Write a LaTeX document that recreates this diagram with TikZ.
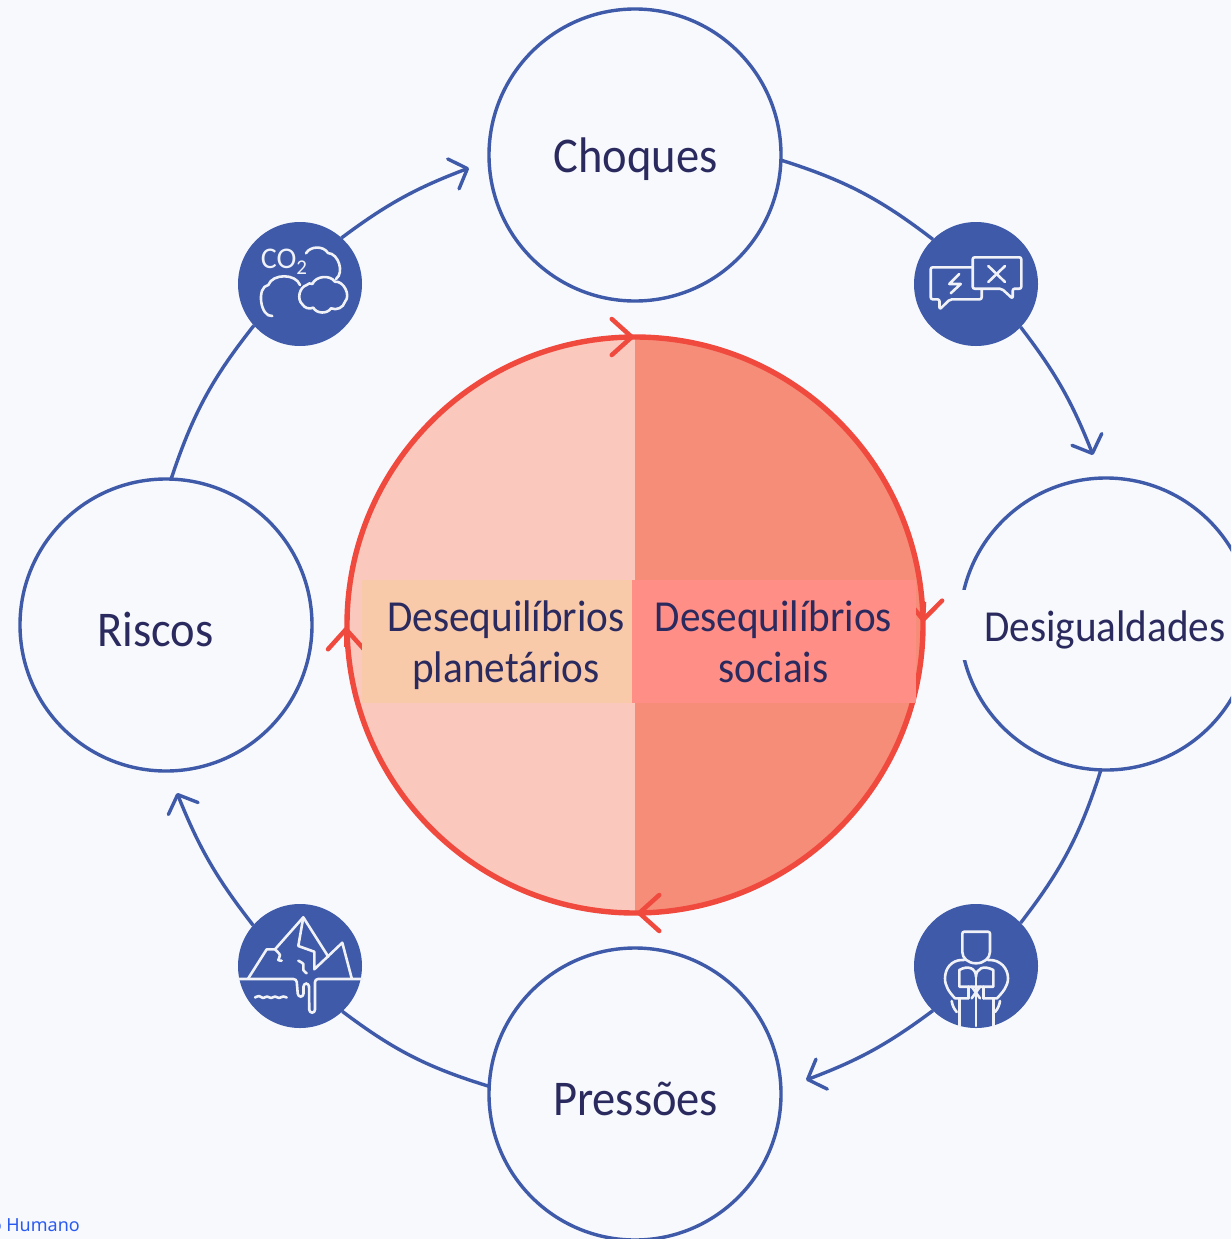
\documentclass[tikz,border=0pt]{standalone}
\usepackage{fontspec}
\setmainfont{Carlito}
\newfontfamily\rotfont[FakeStretch=0.93]{Carlito}
\newfontfamily\linkfont{Noto Sans}
\usetikzlibrary{arrows.meta}
\definecolor{fundo}{HTML}{F7F9FD}
\definecolor{azul}{HTML}{3E5AA8}
\definecolor{tinta}{HTML}{2B2A5E}
\definecolor{vermelho}{HTML}{F0493E}
\definecolor{rosa}{HTML}{FBC8BE}
\definecolor{salmao}{HTML}{F68D78}
\definecolor{pessego}{HTML}{F8CAAA}
\definecolor{coral}{HTML}{FF8E86}
\definecolor{ligacao}{HTML}{2A5BF0}
\begin{document}
\begin{tikzpicture}[x=1pt, y=-1pt]
\tikzset{etapa/.style={draw=azul, circle, line width=3.4pt, minimum size=292pt, inner sep=0pt, outer sep=0pt}}
\tikzset{icone/.style={fill=azul, circle, minimum size=124pt, inner sep=0pt, outer sep=0pt}}
\tikzset{rotulo/.style={text=tinta, font=\rotfont\fontsize{50}{54}\selectfont}}
\tikzset{rotulomenor/.style={text=tinta, align=center, font=\rotfont\fontsize{44.3}{51}\selectfont}}
\tikzset{ligar/.style={draw=azul, line width=3.4pt}}
\tikzset{seta/.style={ligar, -{Straight Barb[length=15pt, width=32pt, round]}}}
\tikzset{setav/.style={draw=vermelho, line width=4.5pt, -{Straight Barb[length=20pt, width=36pt, round]}}}
\tikzset{traco/.style={draw=white!92!azul, line width=2.6pt, line join=round, line cap=round}}
\useasboundingbox (0,0) rectangle (1231,1239);
\clip (0,0) rectangle (1231,1239);
\fill[fundo] (0,0) rectangle (1231,1239);
\node[etapa] (choques) at (635,155) {};
\node[etapa] (desigualdades) at (1106,624) {};
\node[etapa] (pressoes) at (635,1094) {};
\node[etapa] (riscos) at (166,625) {};
\node[icone] (conflito) at (976,284) {};
\node[icone] (pessoa) at (976,966) {};
\node[icone] (gelo) at (300,966) {};
\node[icone] (nuvens) at (300,284) {};
\coordinate (fimdesig) at (1093,455);
\coordinate (fimpress) at (806,1080);
\coordinate (fimris) at (177,793);
\coordinate (fimcho) at (469,168);
\draw[ligar] (choques.-2) to[bend left=10] (conflito.134);
\draw[seta] (conflito.-44) to[bend left=8] (fimdesig);
\draw[ligar] (desigualdades.-92) to[bend left=10] (pessoa.44);
\draw[seta] (pessoa.-134) to[bend left=8] (fimpress);
\draw[ligar] (pressoes.177) to[bend left=10] (gelo.-47);
\draw[seta] (gelo.139) to[bend left=8] (fimris);
\draw[ligar] (riscos.88) to[bend left=10] (nuvens.-138);
\draw[seta] (nuvens.48) to[bend left=8] (fimcho);
\begin{scope}
\clip (635,625) circle (288pt);
\fill[rosa] (340,330) rectangle (635,920);
\fill[salmao] (635,330) rectangle (930,920);
\end{scope}
\node[draw=vermelho, circle, line width=5.4pt, minimum size=576pt, inner sep=0pt, outer sep=0pt] (nucleo) at (635,625) {};
\coordinate (topo0) at (615,337);
\coordinate (topo1) at (634,337);
\coordinate (dir0) at (924,602);
\coordinate (dir1) at (923,622);
\coordinate (base0) at (657,913);
\coordinate (base1) at (637,913);
\coordinate (esq0) at (346,647);
\coordinate (esq1) at (346,627);
\draw[setav] (topo0) -- (topo1);
\draw[setav] (dir0) -- (dir1);
\draw[setav] (base0) -- (base1);
\draw[setav] (esq0) -- (esq1);
\node[fill=pessego, minimum width=270pt, minimum height=123pt, inner sep=0pt] (caixaesq) at (497,641.5) {};
\node[fill=coral, minimum width=284pt, minimum height=123pt, inner sep=0pt] (caixadir) at (774,641.5) {};
\node[fill=fundo, minimum width=300pt, minimum height=70pt, inner sep=0pt] (caixadesig) at (1105,625) {};
\node[rotulomenor] (planetarios) at (506,645) {Desequilíbrios\\planetários};
\node[rotulomenor] (sociais) at (773.5,642) {Desequilíbrios\\sociais};
\node[rotulo] (txtchoques) at (635.5,159) {Choques};
\node[rotulo] (txtriscos) at (155.5,629) {Riscos};
\node[rotulo] (txtpressoes) at (635.5,1099) {Pressões};
\node[rotulomenor] (txtdesig) at (1105,630) {Desigualdades};
\node[text=ligacao, font=\linkfont\fontsize{18}{20}\selectfont, anchor=east, inner sep=0pt] (txtlink) at (80,1225) {o Humano};
% conflito
\draw[traco, rounded corners=2pt] (981.7,289.3) -- (981.7,299.3) -- (950,299.3) -- (939.5,309.5) -- (939.5,299.3) -- (930.7,299.3) -- (930.7,267.3) -- (972.7,267.3);
\draw[traco, rounded corners=2pt] (972.7,257.3) -- (1021.3,257.3) -- (1021.3,288.7) -- (1012.7,288.7) -- (1012.7,298.7) -- (1001.7,288.7) -- (972.7,288.7) -- cycle;
\draw[traco] (988.3,266) -- (1005,282);
\draw[traco] (1005,266) -- (988.3,282);
\draw[traco] (959.3,274) -- (949.3,284) -- (960.7,284) -- (950.7,293.3);
% nuvens
\node[text=white!92!azul, font=\fontsize{30}{32}\selectfont, inner sep=0pt] (co2) at (284,262) {CO\raisebox{-6pt}{\fontsize{21}{23}\selectfont 2}};
\draw[traco] (306,253.3) to[bend left=60] (328,253) to[bend left=70] (336,279);
\draw[traco] (272.3,316) to[bend left=90] (268.3,285) to[bend left=70] (300,285);
\draw[traco] (302.3,304.3) to[bend left=60] (306.7,285) to[bend left=40] (312.3,284) to[bend left=60] (335,281.7) to[bend left=70] (345,301.7) to[bend left=50] (331,308.3) to[bend left=60] (313.3,307.7) to[bend left=40] cycle;
% gelo
\draw[traco] (248.3,978.3) -- (266.7,949.3) -- (275,949.3) -- (303.3,917.3) -- (328.3,956.7);
\draw[traco] (303.3,917.3) -- (298.3,946) -- (314.3,951.7) -- (314.3,969.3) -- (342.3,942.7) -- (351.7,978.3);
\draw[traco] plot[smooth] coordinates {(275,949.3) (280,955) (278.3,960) (281.7,960.7)};
\draw[traco] plot[smooth] coordinates {(298.3,960.7) (303.3,964) (303.3,970) (306.7,973.3)};
\draw[traco, rounded corners=3pt] (239,979) -- (296.5,979) -- (298,996.7) -- (303.5,996.7) -- (303.5,983.5) -- (309,983.5) -- (309.3,1012.7) -- (315,1012.7) -- (315,979) -- (362,979);
\draw[traco] plot[smooth] coordinates {(255,997.5) (259,996) (263,998) (267,996.5) (271,998) (275,996.5) (279,998) (283,996.5) (286.7,997.5)};
% pessoa
\draw[traco, rounded corners=2pt] (976,963.3) .. controls (968,963.3) and (962.3,958) .. (962.3,950) -- (962.3,931.7) -- (990,931.7) -- (990,950) .. controls (990,958) and (984,963.3) .. (976,963.3);
\draw[traco] (968.3,998.3) -- (955,998.3) .. controls (949,992) and (945,986) .. (945,978.3) .. controls (945,968) and (952,960) .. (962,960) -- (964,960);
\draw[traco] (983.3,998.3) -- (997,998.3) .. controls (1003,992) and (1008,986) .. (1008,978.3) .. controls (1008,968) and (1000,960) .. (990,960) -- (988,960);
\draw[traco] (959.3,986.7) -- (959.3,970) .. controls (968,965) and (976,968) .. (976,977) .. controls (976,968) and (984,965) .. (993.3,970) -- (993.3,986.7) -- cycle;
\draw[traco] (976,977) -- (976,1026);
\draw[traco] (968.3,986.7) -- (968.3,998.3);
\draw[traco] (983.3,986.7) -- (983.3,998.3);
\draw[traco] (971.7,986.7) -- (980,998.3);
\draw[traco] (980,986.7) -- (971.7,998.3);
\draw[traco] (959.3,998.3) -- (959.3,1026);
\draw[traco] (993.3,998.3) -- (993.3,1026);
\draw[traco] (951.7,1001) to[bend right=15] (956.7,1012);
\draw[traco] (1000,1001) to[bend left=15] (995,1012);
\end{tikzpicture}
\end{document}
